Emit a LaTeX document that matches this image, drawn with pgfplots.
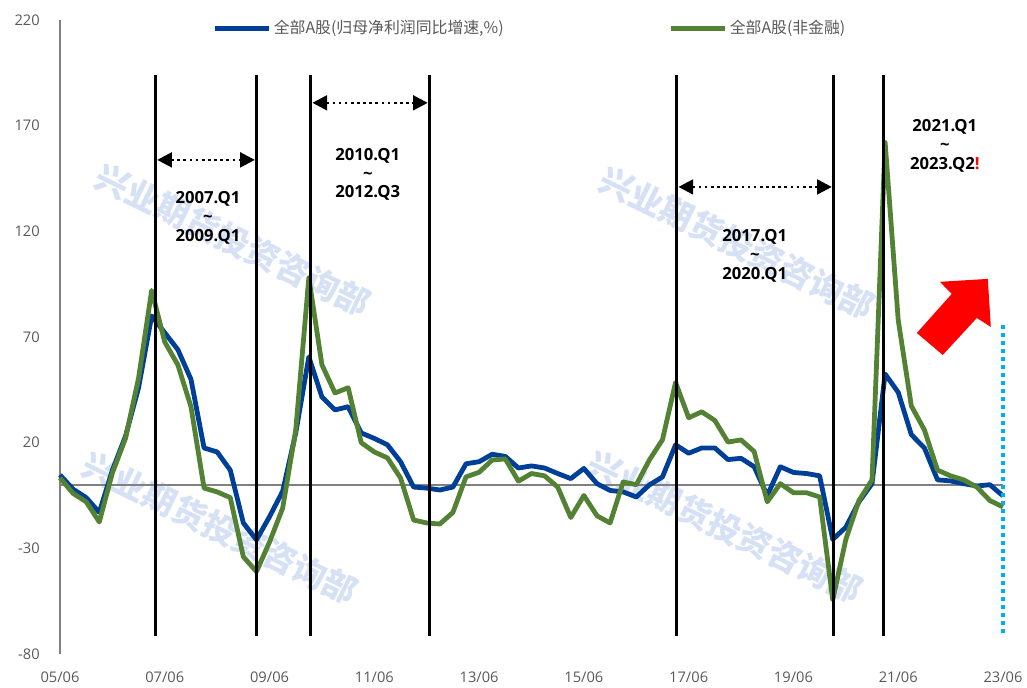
\documentclass[border=0pt]{standalone}
\usepackage{fontspec}
\setmainfont{Open Sans}
\newfontfamily\cjk{Noto Sans CJK SC}
\usepackage{pgfplots}
\pgfplotsset{compat=1.18}
\usetikzlibrary{arrows.meta}
\definecolor{ser1}{RGB}{0,63,152}
\definecolor{ser2}{RGB}{84,130,53}
\definecolor{tickgray}{RGB}{89,89,89}
\definecolor{axgray}{RGB}{128,128,128}
\definecolor{wm}{RGB}{214,225,245}
\definecolor{cyanl}{RGB}{0,176,240}
\pgfplotstableread{
i v
0 4.7
1 -2
2 -6
3 -13
4 7
5 23
6 46
7 80
8 72
9 64
10 50
11 17.5
12 15.6
13 7
14 -18
15 -26
16 -15
17 -3
18 24.6
19 60.6
20 41.6
21 35.5
22 37
23 24.6
24 22
25 19
26 11
27 -1
28 -1.5
29 -2.4
30 -1
31 10
32 11
33 14.5
34 13.5
35 8
36 9
37 8
38 5.4
39 3
40 7.8
41 0.6
42 -2.6
43 -3.3
44 -5.7
45 0
46 3.8
47 19
48 15
49 17.5
50 17.5
51 12
52 12.6
53 8.6
54 -5
55 8.6
56 5.9
57 5.4
58 4.3
59 -25.8
60 -20
61 -8
62 0.6
63 52.5
64 43.8
65 23.8
66 17.5
67 2.4
68 1.9
69 0.6
70 -0.5
71 0.1
72 -5.2
}\blue
\pgfplotstableread{
i v
0 3.3
1 -4
2 -8
3 -17.5
4 5.7
5 22
6 50.6
7 92
8 67.6
9 56.8
10 37
11 -1.5
12 -3.3
13 -6
14 -34
15 -41
16 -27
17 -11
18 26
19 98
20 56.8
21 43.5
22 46
23 20
24 15.6
25 12.8
26 3.3
27 -16.6
28 -18
29 -18.5
30 -13
31 3.8
32 6
33 11.8
34 12.3
35 1.8
36 5.4
37 4.3
38 -1
39 -15.4
40 -5
41 -14.6
42 -18
43 1.4
44 0.1
45 11.8
46 21.4
47 48.5
48 31.8
49 34.6
50 30.5
51 20.3
52 21.3
53 15.8
54 -8
55 0.6
56 -3.7
57 -3.7
58 -5.7
59 -54.4
60 -25.8
61 -7.4
62 2.4
63 162
64 78
65 37.4
66 26
67 7
68 4.3
69 2.4
70 -1
71 -7.4
72 -10.4
}\green
\begin{document}
\begin{tikzpicture}
% watermark (decoration)
\foreach \x/\y in {129.75/310.5, 120/94.5, 507.75/308.25, 498.75/95.25}{
  \node[rotate=-26, text=wm, font=\cjk\bfseries\fontsize{25}{28}\selectfont] at (\x pt,\y pt) {兴业期货投资咨询部};
}
\begin{axis}[
  scale only axis, width=707.25pt, height=475.5pt,
  at={(0pt,0pt)}, anchor=south west,
  xmin=0, xmax=72, ymin=-80, ymax=220,
  clip=false,
  axis x line*=bottom, axis y line*=left,
  x axis line style={draw=none},
  y axis line style={axgray, line width=1.5pt, -},
  major tick length=0pt, tick style={draw=none},
  xtick={0,8,...,72},
  xticklabels={05/06,07/06,09/06,11/06,13/06,15/06,17/06,19/06,21/06,23/06},
  ytick={-80,-30,20,70,120,170,220},
  yticklabels={-80,-30,20,70,120,170,220},
  yticklabel style={inner sep=0pt, anchor=east, xshift=-15pt, text=tickgray, font=\fontsize{11}{13}\selectfont},
  xticklabel style={inner sep=0pt, anchor=base, yshift=-21pt, text=tickgray, font=\fontsize{11}{13}\selectfont},
  legend style={at={(rel axis cs:0.162,0.987)}, anchor=west, draw=none, fill=none, inner sep=0pt,
    font=\cjk\fontsize{11.9}{13}\selectfont, text=tickgray,
    /tikz/every even column/.append style={column sep=122pt}},
  legend columns=2, legend cell align=left,
  legend image code/.code={\draw[#1] (0pt,0pt) -- (40pt,0pt);},
]
\draw[axgray, line width=1.5pt] (axis cs:0,0) -- (axis cs:72,0);
\addplot[ser1, line width=3.6pt, line join=round] table[x=i,y=v] {\blue};
\addlegendentry{全部A股(归母净利润同比增速,\%)}
\addplot[ser2, line width=3.6pt, line join=round] table[x=i,y=v] {\green};
\addlegendentry{全部A股(非金融)}
% vertical period lines
\foreach \xv in {7.3,15,19.15,28.2,47.1,59.05,62.85}{
  \edef\temp{\noexpand\draw[black, line width=2.3pt] (axis cs:\xv,-71.5) -- (axis cs:\xv,194);}
  \temp
}
\draw[cyanl, line width=3pt, dash pattern=on 3pt off 3pt] (axis cs:72,75.7) -- (axis cs:72,-71.5);
% dotted arrows
\draw[line width=2pt, dash pattern=on 2pt off 2.6pt, {Triangle[length=11pt,width=11pt]}-{Triangle[length=11pt,width=11pt]}] (axis cs:7.42,153.8) -- (axis cs:14.88,153.8);
\draw[line width=2pt, dash pattern=on 2pt off 2.6pt, {Triangle[length=11pt,width=11pt]}-{Triangle[length=11pt,width=11pt]}] (axis cs:19.27,180.8) -- (axis cs:28.08,180.8);
\draw[line width=2pt, dash pattern=on 2pt off 2.6pt, {Triangle[length=11pt,width=11pt]}-{Triangle[length=11pt,width=11pt]}] (axis cs:47.22,141) -- (axis cs:58.93,141);
% labels
\node[align=center, font=\bfseries\fontsize{12.5}{14}\selectfont] at (axis cs:11.3,126.4) {2007.Q1\\\textasciitilde\\2009.Q1};
\node[align=center, font=\bfseries\fontsize{12.5}{14}\selectfont] at (axis cs:23.5,146.8) {2010.Q1\\\textasciitilde\\2012.Q3};
\node[align=center, font=\bfseries\fontsize{12.5}{14}\selectfont] at (axis cs:53.05,108.4) {2017.Q1\\\textasciitilde\\2020.Q1};
\node[align=center, font=\bfseries\fontsize{12.5}{14}\selectfont] at (axis cs:67.56,160.4) {2021.Q1\\\textasciitilde\\2023.Q2\textcolor{red}{!}};
% red arrow
\fill[red] (axis cs:70.84,97.5) -- (axis cs:67.18,96.1) -- (axis cs:68.09,90.4) -- (axis cs:65.42,71.9)
  -- (axis cs:67.4,61.5) -- (axis cs:70.0,79.0) -- (axis cs:71.07,74.8) -- cycle;
\end{axis}
\pgfresetboundingbox
\path (-45pt,-25.5pt) rectangle (725.25pt,490.5pt);
\end{tikzpicture}
\end{document}
